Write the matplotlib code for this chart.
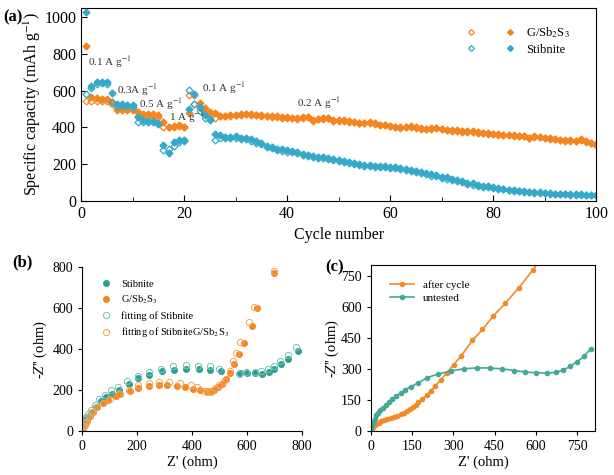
import matplotlib
matplotlib.use("Agg")
import matplotlib.pyplot as plt
import numpy as np
from matplotlib.legend_handler import HandlerTuple

plt.rcParams['font.family'] = ['Liberation Serif', 'DejaVu Serif']
plt.rcParams['mathtext.fontset'] = 'stix'

ORANGE = '#f5861f'
BLUE = '#35aac8'
TEAL = '#2e9f8e'

# ---------------- (a) rate / cycling data ----------------
cycles = np.arange(1, 101)

gsb_fill = [845, 565, 560, 555, 555, 540, 500, 500, 500, 500,
            485, 475, 475, 475, 470, 430, 405, 410, 415, 405,
            480, 575, 535, 505, 485, 480, 465, 465, 468, 470,
            472, 474, 472, 470, 466, 463, 462, 460, 457, 455,
            452, 450, 455, 458, 440, 448, 450, 452, 440, 438,
            440, 435, 430, 425, 425, 428, 422, 415, 415, 410,
            405, 402, 405, 408, 400, 395, 392, 396, 398, 394,
            388, 385, 385, 380, 380, 378, 375, 372, 370, 365,
            362, 360, 360, 358, 355, 355, 345, 352, 350, 345,
            340, 338, 332, 330, 330, 328, 335, 325, 318, 310]

gsb_open = [545, 545, 545, 545, 545, 530, 495, 495, 495, 495,
            465, 460, 460, 460, 455, 400, 400, 405, 410, 405,
            575, 530, 505, 480, 475, 450, 460, 460, 463, 466,
            469, 471, 469, 467, 463, 460, 459, 457, 454, 452,
            449, 447, 452, 455, 437, 445, 447, 449, 437, 435,
            437, 432, 427, 422, 422, 425, 419, 412, 412, 407,
            402, 399, 402, 405, 397, 392, 389, 393, 395, 391,
            385, 382, 382, 377, 377, 375, 372, 369, 367, 362,
            359, 357, 357, 355, 352, 352, 342, 349, 347, 342,
            337, 335, 329, 327, 327, 325, 332, 322, 315, 307]

stib_fill = [1030, 625, 645, 650, 650, 585, 530, 530, 525, 520,
             455, 440, 435, 435, 420, 305, 260, 320, 330, 330,
             500, 580, 510, 470, 445, 365, 360, 350, 350, 355,
             345, 345, 335, 325, 315, 300, 295, 285, 280, 275,
             270, 265, 258, 250, 245, 240, 238, 232, 228, 222,
             218, 212, 205, 200, 198, 195, 192, 190, 188, 185,
             185, 180, 175, 170, 165, 160, 152, 145, 140, 132,
             128, 122, 115, 108, 100, 95, 88, 82, 80, 76,
             70, 66, 62, 58, 55, 52, 50, 48, 46, 44,
             42, 40, 39, 38, 37, 36, 35, 34, 33, 33]

stib_open = [580, 615, 635, 640, 635, 540, 515, 515, 515, 510,
             430, 430, 430, 430, 425, 275, 280, 300, 320, 325,
             605, 530, 490, 450, 440, 330, 345, 340, 340, 345,
             338, 338, 328, 318, 308, 294, 289, 279, 274, 269,
             264, 259, 252, 244, 239, 234, 232, 226, 222, 216,
             212, 206, 199, 194, 192, 189, 186, 184, 182, 179,
             179, 174, 168, 163, 158, 153, 145, 138, 133, 125,
             121, 115, 108, 101, 94, 89, 83, 78, 76, 72,
             67, 63, 59, 55, 52, 49, 47, 45, 43, 41,
             39, 37, 36, 35, 34, 33, 32, 31, 30, 30]

rate_labels = ["0.1 A g$^{-1}$", "0.3A g$^{-1}$", "0.5 A g$^{-1}$",
               "1 A g$^{-1}$", "0.1 A g$^{-1}$", "0.2 A g$^{-1}$"]
rate_x = [1.3, 6.9, 11.3, 17.0, 23.5, 42.0]
rate_y = [755, 603, 527, 456, 614, 532]

# ---------------- (b) EIS with fitting ----------------
stib_zr = [2, 5, 9, 15, 25, 38, 52, 68, 88, 110, 135, 170, 205, 245, 290, 335, 380,
           425, 465, 505, 575, 600, 630, 655, 680, 700, 725, 750, 785]
stib_zi = [3, 20, 40, 60, 75, 95, 115, 145, 165, 180, 200, 230, 258, 275, 295, 300,
           305, 305, 300, 295, 285, 282, 282, 280, 290, 305, 325, 350, 390]
stibfit_zr = [1, 4, 8, 14, 22, 33, 47, 62, 82, 105, 132, 165, 202, 242, 287, 332,
              378, 422, 465, 500, 572, 597, 628, 653, 678, 698, 722, 748, 780]
stibfit_zi = [5, 22, 45, 68, 85, 105, 128, 158, 175, 198, 215, 245, 268, 288, 302,
              315, 320, 318, 315, 305, 277, 286, 290, 294, 302, 318, 343, 372, 410]

gsb_zr = [2, 5, 10, 18, 28, 40, 55, 75, 95, 125, 140, 175, 205, 245, 280, 310, 345,
          375, 405, 430, 455, 470, 480, 495, 510, 525, 540, 552, 572, 590, 620, 638, 700]
gsb_zi = [3, 12, 30, 50, 75, 95, 115, 135, 150, 170, 180, 195, 210, 220, 225, 225,
          220, 215, 205, 200, 195, 195, 200, 215, 230, 255, 285, 325, 375, 430, 515, 600, 770]
gsbfit_zr = [0, 3, 8, 15, 25, 38, 55, 75, 100, 135, 170, 205, 245, 280, 315, 355,
             395, 420, 445, 455, 470, 485, 500, 515, 540, 548, 560, 575, 608, 625, 698]
gsbfit_zi = [0, 8, 25, 45, 70, 95, 115, 135, 155, 180, 200, 225, 235, 240, 240, 235,
             225, 215, 195, 190, 192, 210, 225, 245, 295, 340, 380, 435, 530, 605, 780]

# ---------------- (c) EIS before / after ----------------
after_zr = [0, 3, 8, 14, 20, 28, 38, 48, 60, 72, 84, 96, 108, 120, 132, 143, 153,
            163, 173, 187, 203, 217, 233, 255, 276, 301, 328, 369, 406, 444, 489,
            537, 589, 625]
after_zi = [0, 8, 18, 27, 34, 41, 47, 52, 57, 62, 67, 73, 80, 88, 97, 106, 116,
            127, 138, 155, 172, 194, 215, 248, 280, 320, 362, 437, 490, 553, 617,
            689, 777, 840]
untest_zr = [0, 2, 5, 9, 14, 20, 27, 35, 45, 55, 66, 78, 92, 108, 125, 145, 172,
             205, 245, 290, 338, 385, 432, 478, 520, 560, 600, 640, 675, 700, 725,
             750, 775, 800]
untest_zi = [0, 15, 30, 45, 60, 75, 88, 100, 113, 126, 140, 153, 167, 182, 198,
             214, 232, 258, 275, 290, 300, 305, 304, 300, 292, 285, 281, 280, 283,
             295, 312, 335, 360, 398]

fig = plt.figure(figsize=(6.14, 4.75), dpi=100)

# ---- panel (a)
ax = fig.add_axes([0.132, 0.577, 0.839, 0.406])
o1, = ax.plot(cycles, gsb_open, 'D', ms=3.5, mfc='none', mec=ORANGE, mew=0.9, ls='none')
f1, = ax.plot(cycles, gsb_fill, 'D', ms=3.5, color=ORANGE, ls='none')
o2, = ax.plot(cycles, stib_open, 'D', ms=3.5, mfc='none', mec=BLUE, mew=0.9, ls='none')
f2, = ax.plot(cycles, stib_fill, 'D', ms=3.5, color=BLUE, ls='none')
for lab, x, y in zip(rate_labels, rate_x, rate_y):
    ax.text(x, y, lab, fontsize=8, color='#333333', va='center')
ax.set_xlim(0, 100)
ax.set_ylim(0, 1050)
ax.set_xticks([0, 20, 40, 60, 80, 100])
ax.set_xticks([10, 30, 50, 70, 90], minor=True)
ax.set_yticks([0, 200, 400, 600, 800, 1000])
ax.tick_params(direction='in', labelsize=11.5, length=4)
ax.tick_params(which='minor', direction='in', length=3)
ax.set_xlabel("Cycle number", fontsize=11.5)
ax.set_ylabel("Specific capacity (mAh g$^{-1}$)", fontsize=11.5, labelpad=1)
ax.legend([(o1, f1), (o2, f2)], ["G/Sb$_2$S$_3$", "Stibnite"],
          handler_map={tuple: HandlerTuple(ndivide=None, pad=2.2)},
          handlelength=4.0, frameon=False, fontsize=9, loc='upper right',
          bbox_to_anchor=(0.97, 0.97), labelspacing=0.3, markerscale=0.85)
fig.text(0.005, 0.955, "(a)", fontsize=12, fontweight='bold')

# ---- panel (b)
bx = fig.add_axes([0.1336, 0.0926, 0.358, 0.345])
bx.plot(stib_zr, stib_zi, 'o', ms=4, color=TEAL, ls='none', label='Stibnite')
bx.plot(gsb_zr, gsb_zi, 'o', ms=4, color=ORANGE, ls='none', label='G/Sb$_2$S$_3$')
bx.plot(stibfit_zr, stibfit_zi, 'o', ms=4.5, mfc='none', mec='#6fc3b8', mew=0.7,
        ls='none', label='fitting of Stibnite')
bx.plot(gsbfit_zr, gsbfit_zi, 'o', ms=4.5, mfc='none', mec='#f5a45a', mew=0.7,
        ls='none', label='fitting of StibniteG/Sb$_2$S$_3$')
bx.set_xlim(0, 800)
bx.set_ylim(0, 800)
bx.set_xticks([0, 200, 400, 600, 800])
bx.set_yticks([0, 200, 400, 600, 800])
bx.spines['top'].set_visible(False)
bx.spines['right'].set_visible(False)
bx.tick_params(direction='out', labelsize=10, length=3)
bx.set_xlabel("Z' (ohm)", fontsize=10.5, labelpad=2)
bx.set_ylabel("-$Z$'' (ohm)", fontsize=10.5, labelpad=2)
bx.legend(frameon=False, fontsize=7.5, loc='upper left', bbox_to_anchor=(0.04, 0.98),
          handletextpad=0.8, labelspacing=0.45, handlelength=1.2)
fig.text(0.02, 0.44, "(b)", fontsize=12, fontweight='bold')

# ---- panel (c)
cx = fig.add_axes([0.604, 0.0926, 0.365, 0.349])
cx.plot(after_zr, after_zi, '-o', ms=3, lw=1.2, color='#f28a2a', label='after cycle')
cx.plot(untest_zr, untest_zi, '-o', ms=3, lw=1.2, color='#44a898', label='untested')
cx.set_xlim(0, 815)
cx.set_ylim(0, 800)
cx.set_xticks([0, 150, 300, 450, 600, 750])
cx.set_yticks([0, 150, 300, 450, 600, 750])
cx.tick_params(direction='out', labelsize=10, length=3)
cx.set_xlabel("Z' (ohm)", fontsize=10.5, labelpad=2)
cx.set_ylabel("-$Z$'' (ohm)", fontsize=10.5, labelpad=0)
cx.legend(frameon=False, fontsize=8, loc='upper left', bbox_to_anchor=(0.04, 0.97),
          handlelength=2.2, labelspacing=0.3)
fig.text(0.53, 0.428, "(c)", fontsize=12, fontweight='bold')

fig.savefig("out.png", dpi=100)
